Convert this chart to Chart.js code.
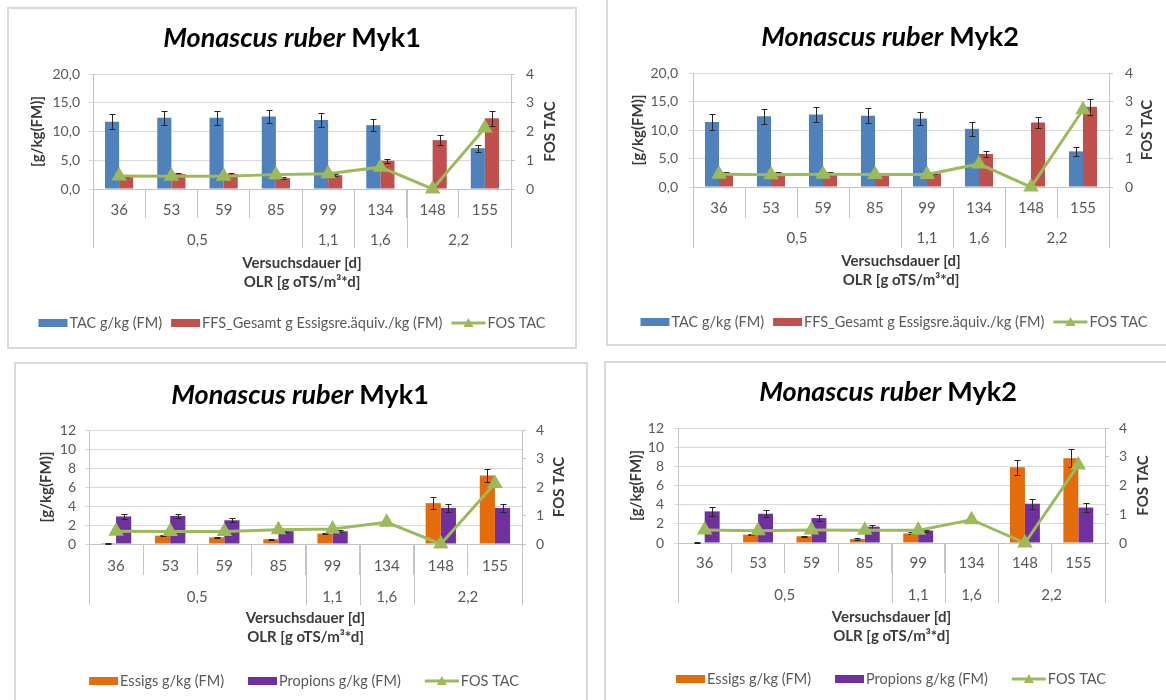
<!DOCTYPE html>
<html>
<head>
<meta charset="utf-8">
<script src="https://cdn.jsdelivr.net/npm/chart.js@4.4.1/dist/chart.umd.min.js"></script>
<style>
  body { margin: 0; background: #fff; width: 1166px; height: 700px; overflow: hidden; position: relative; }
  .panel { position: absolute; border: 2px solid #dadada; box-sizing: border-box; background: #fff; }
  canvas { position: absolute; }
</style>
</head>
<body>
<div class="panel" style="left:7px;top:7px;width:570px;height:342px"></div>
<div class="panel" style="left:606px;top:-2px;width:570px;height:348px"></div>
<div class="panel" style="left:14px;top:362px;width:574px;height:350px"></div>
<div class="panel" style="left:604px;top:361px;width:570px;height:350px"></div>
<canvas id="c1" width="568" height="340" style="left:8px;top:8px"></canvas>
<canvas id="c2" width="559" height="345" style="left:607px;top:0px"></canvas>
<canvas id="c3" width="572" height="337" style="left:15px;top:363px"></canvas>
<canvas id="c4" width="561" height="338" style="left:605px;top:362px"></canvas>
<script>
/* data */
const days = ['36', '53', '59', '85', '99', '134', '148', '155'];
const olr = ['0,5', '0,5', '0,5', '0,5', '1,1', '1,6', '2,2', '2,2'];

const tacMyk1 = [11.7, 12.4, 12.4, 12.6, 12.0, 11.1, null, 7.1];
const tacErrMyk1 = [1.3, 1.2, 1.2, 1.1, 1.2, 1.05, null, 0.6];
const ffsMyk1 = [2.3, 2.6, 2.6, 1.9, 2.4, 4.9, 8.5, 12.3];
const ffsErrMyk1 = [0.15, 0.2, 0.2, 0.15, 0.2, 0.35, 0.9, 1.3];
const fosMyk1 = [0.45, 0.44, 0.44, 0.5, 0.53, 0.76, 0, 2.12];

const tacMyk2 = [11.4, 12.4, 12.7, 12.5, 12.0, 10.2, null, 6.25];
const tacErrMyk2 = [1.4, 1.35, 1.3, 1.3, 1.1, 1.2, null, 0.75];
const ffsMyk2 = [2.4, 2.4, 2.4, 2.3, 2.4, 5.8, 11.3, 14.1];
const ffsErrMyk2 = [0.2, 0.2, 0.2, 0.2, 0.2, 0.6, 0.9, 1.4];
const fosMyk2 = [0.45, 0.43, 0.45, 0.44, 0.44, 0.81, 0, 2.71];

const essMyk1 = [0.1, 0.88, 0.7, 0.5, 1.1, null, 4.3, 7.2];
const essErrMyk1 = [0.05, 0.08, 0.08, 0.05, 0.08, null, 0.6, 0.7];
const propMyk1 = [2.9, 2.95, 2.5, 1.35, 1.35, null, 3.8, 3.8];
const propErrMyk1 = [0.25, 0.25, 0.2, 0.1, 0.1, null, 0.4, 0.45];

const essMyk2 = [0.05, 0.87, 0.7, 0.42, 1.0, null, 7.9, 8.85];
const essErrMyk2 = [0.03, 0.07, 0.07, 0.07, 0.1, null, 0.8, 0.95];
const propMyk2 = [3.3, 3.05, 2.6, 1.7, 1.3, null, 4.1, 3.7];
const propErrMyk2 = [0.5, 0.35, 0.35, 0.2, 0.1, null, 0.5, 0.5];

/* colours and fonts */
const BLUE = '#4f81bd', RED = '#c0504d', GREEN = '#9bbb59', ORANGE = '#e46c0a', PURPLE = '#7030a0';
const TICK = '#595959', GRID = '#d9d9d9', AXIS = '#c4c4c4', LABEL = '#3a3a3a';
const FONT = 'Lato';
Chart.defaults.font.family = FONT;

const fmtComma = v => v.toFixed(1).replace('.', ',');
const fmtInt = v => String(v);

/* error bars drawn right after their own bar dataset */
const errorBars = {
  id: 'errorBars',
  afterDatasetDraw(chart, args) {
    const ds = chart.data.datasets[args.index];
    if (!ds.errors) return;
    const yScale = chart.scales[ds.yAxisID];
    const ctx = chart.ctx;
    ctx.save();
    ctx.strokeStyle = '#262626';
    ctx.lineWidth = 1;
    args.meta.data.forEach(function(bar, i) {
      const v = ds.data[i], e = ds.errors[i];
      if (v == null || e == null) return;
      const top = Math.round(yScale.getPixelForValue(v + e)) + 0.5;
      const bot = Math.round(yScale.getPixelForValue(Math.max(0, v - e))) + 0.5;
      const x = Math.round(bar.x) + 0.5;
      ctx.beginPath();
      ctx.moveTo(x, top); ctx.lineTo(x, bot);
      ctx.moveTo(x - 3, top); ctx.lineTo(x + 3, top);
      ctx.moveTo(x - 3, bot); ctx.lineTo(x + 3, bot);
      ctx.stroke();
    });
    ctx.restore();
  }
};

/* title, second category row, right axis title, legend */
const panelText = {
  id: 'panelText',
  afterDraw(chart) {
    const s = chart.options.plugins.panelText;
    const ctx = chart.ctx;
    const xs = chart.scales.x;
    const area = chart.chartArea;
    ctx.save();

    // title: species name in italics
    ctx.fillStyle = '#000';
    ctx.textBaseline = 'middle';
    ctx.textAlign = 'left';
    const f1 = 'italic bold 27px ' + FONT, f2 = 'bold 27px ' + FONT;
    ctx.font = f1;
    const w1 = ctx.measureText('Monascus ruber ').width;
    ctx.font = f2;
    const w2 = ctx.measureText(s.strain).width;
    let tx = s.titleX - (w1 + w2) / 2;
    ctx.font = f1;
    ctx.fillText('Monascus ruber ', tx, s.titleY);
    ctx.font = f2;
    ctx.fillText(s.strain, tx + w1, s.titleY);

    // right axis title, reading bottom to top
    ctx.save();
    ctx.translate(s.fosX, (area.top + area.bottom) / 2);
    ctx.rotate(-Math.PI / 2);
    ctx.textAlign = 'center';
    ctx.font = 'bold 15px ' + FONT;
    ctx.fillStyle = LABEL;
    ctx.fillText('FOS TAC', 0, 0);
    ctx.restore();

    // OLR row under the day labels
    const half = xs.width / days.length / 2;
    const groups = [];
    olr.forEach(function(v, i) {
      const g = groups[groups.length - 1];
      if (g && g.label === v) g.to = i; else groups.push({label: v, from: i, to: i});
    });
    ctx.strokeStyle = AXIS;
    ctx.lineWidth = 1;
    ctx.fillStyle = TICK;
    ctx.font = '15px ' + FONT;
    ctx.textAlign = 'center';
    groups.forEach(function(g, k) {
      const x0 = xs.getPixelForValue(g.from) - half;
      const x1 = xs.getPixelForValue(g.to) + half;
      ctx.fillText(g.label, (x0 + x1) / 2, s.groupY);
      const edges = k === 0 ? [x0, x1] : [x1];
      edges.forEach(function(x) {
        const px = Math.round(x) + 0.5;
        ctx.beginPath();
        ctx.moveTo(px, area.bottom);
        ctx.lineTo(px, s.sepLong);
        ctx.stroke();
      });
    });

    // legend
    ctx.font = '14.5px ' + FONT;
    ctx.textAlign = 'left';
    const items = chart.data.datasets.slice(1).concat([chart.data.datasets[0]]);
    const widths = items.map(d => (d.type === 'line' ? 34 : 29) + 2 + ctx.measureText(d.label).width);
    const total = widths.reduce((a, b) => a + b, 0) + s.legendGap * (items.length - 1);
    let lx = s.legendX - total / 2;
    items.forEach(function(d, i) {
      const y = s.legendY;
      if (d.type === 'line') {
        ctx.strokeStyle = d.borderColor;
        ctx.lineWidth = 3;
        ctx.beginPath(); ctx.moveTo(lx, y); ctx.lineTo(lx + 34, y); ctx.stroke();
        ctx.fillStyle = d.borderColor;
        ctx.beginPath();
        ctx.moveTo(lx + 17, y - 5); ctx.lineTo(lx + 22, y + 4); ctx.lineTo(lx + 12, y + 4);
        ctx.closePath(); ctx.fill();
        ctx.fillStyle = TICK;
        ctx.fillText(d.label, lx + 36, y);
      } else {
        ctx.fillStyle = d.backgroundColor;
        ctx.fillRect(lx, y - 4, 29, 8);
        ctx.fillStyle = TICK;
        ctx.fillText(d.label, lx + 31, y);
      }
      lx += widths[i] + s.legendGap;
    });
    ctx.restore();
  }
};

function buildChart(id, s) {
  const canvas = document.getElementById(id);
  const W = canvas.width, H = canvas.height;
  const a = s.area;
  const padL = 4, padR = 4;
  const xH = s.olrY - a.b + 9.5;
  const bars = s.bars.map(function(b) {
    return {
      type: 'bar', label: b.label, data: b.data, errors: b.err, yAxisID: 'y',
      backgroundColor: b.color, borderWidth: 0, order: 1,
      categoryPercentage: s.catPct, barPercentage: 1
    };
  });
  return new Chart(canvas, {
    data: {
      labels: days,
      datasets: [{
        type: 'line', label: 'FOS TAC', data: s.fos, yAxisID: 'y1',
        borderColor: GREEN, backgroundColor: GREEN, borderWidth: 3,
        pointStyle: 'triangle', pointRadius: 6, pointHoverRadius: 6,
        pointBackgroundColor: GREEN, pointBorderColor: GREEN,
        tension: 0, clip: false, order: 0
      }].concat(bars)
    },
    options: {
      responsive: false,
      animation: false,
      devicePixelRatio: 1,
      layout: { padding: { left: padL, right: padR, top: a.t, bottom: H - a.b - xH } },
      plugins: {
        legend: { display: false },
        tooltip: { enabled: false },
        panelText: s
      },
      scales: {
        x: {
          offset: true,
          grid: { offset: true, drawOnChartArea: false, drawTicks: true, tickLength: s.sepShort, color: AXIS },
          border: { display: true, color: AXIS },
          ticks: { color: TICK, font: { size: 15 }, padding: s.catY - a.b - s.sepShort - 9, maxRotation: 0, autoSkip: false },
          title: {
            display: true, text: ['Versuchsdauer [d]', 'OLR [g oTS/m³*d]'], color: LABEL,
            font: { size: 15, weight: 'bold', lineHeight: 19 / 15 }, padding: { top: 0, bottom: 0 }
          },
          afterFit: sc => { sc.height = xH; }
        },
        y: {
          position: 'left', min: 0, max: s.yMax,
          grid: { color: GRID, drawTicks: true, tickLength: 4 },
          border: { display: true, color: AXIS },
          ticks: { stepSize: s.yStep, autoSkip: false, color: TICK, font: { size: 14 }, padding: a.l - 4 - s.yLabelR, callback: s.yFmt },
          title: {
            display: true, text: '[g/kg(FM)]', color: LABEL,
            font: { size: 15, weight: 'bold' }, padding: { top: s.yTitleX - padL - 9, bottom: 0 }
          },
          afterFit: sc => { sc.width = a.l - padL; }
        },
        y1: {
          position: 'right', min: 0, max: 4,
          grid: { drawOnChartArea: false, drawTicks: true, tickLength: 4, color: AXIS },
          border: { display: true, color: AXIS },
          ticks: { stepSize: 1, autoSkip: false, color: TICK, font: { size: 14 }, padding: s.y1LabelL - a.r - 4 },
          afterFit: sc => { sc.width = W - a.r - padR; }
        }
      }
    },
    plugins: [errorBars, panelText]
  });
}

buildChart('c1', {
  strain: 'Myk1', fos: fosMyk1, yMax: 20, yStep: 5, yFmt: fmtComma, catPct: 0.54,
  bars: [
    { label: 'TAC g/kg (FM)', data: tacMyk1, err: tacErrMyk1, color: BLUE },
    { label: 'FFS_Gesamt g Essigsre.äquiv./kg (FM)', data: ffsMyk1, err: ffsErrMyk1, color: RED }
  ],
  area: { l: 85, r: 503, t: 66, b: 181 },
  yLabelR: 72, yTitleX: 29, y1LabelL: 518, fosX: 542,
  catY: 202, sepShort: 29, groupY: 232, sepLong: 240, olrY: 274,
  legendY: 315, legendX: 284, legendGap: 9, titleX: 284, titleY: 30
});

buildChart('c2', {
  strain: 'Myk2', fos: fosMyk2, yMax: 20, yStep: 5, yFmt: fmtComma, catPct: 0.54,
  bars: [
    { label: 'TAC g/kg (FM)', data: tacMyk2, err: tacErrMyk2, color: BLUE },
    { label: 'FFS_Gesamt g Essigsre.äquiv./kg (FM)', data: ffsMyk2, err: ffsErrMyk2, color: RED }
  ],
  area: { l: 86, r: 502, t: 73, b: 187 },
  yLabelR: 71, yTitleX: 31, y1LabelL: 518, fosX: 540,
  catY: 208, sepShort: 31, groupY: 238, sepLong: 248, olrY: 280,
  legendY: 322, legendX: 287, legendGap: 9, titleX: 283, titleY: 37
});

buildChart('c3', {
  strain: 'Myk1', fos: fosMyk1, yMax: 12, yStep: 2, yFmt: fmtInt, catPct: 0.56,
  bars: [
    { label: 'Essigs g/kg (FM)', data: essMyk1, err: essErrMyk1, color: ORANGE },
    { label: 'Propions g/kg (FM)', data: propMyk1, err: propErrMyk1, color: PURPLE }
  ],
  area: { l: 74, r: 507, t: 67, b: 181 },
  yLabelR: 61, yTitleX: 31, y1LabelL: 521, fosX: 544,
  catY: 203, sepShort: 31, groupY: 234, sepLong: 242, olrY: 274,
  legendY: 318, legendX: 289, legendGap: 24, titleX: 285, titleY: 32
});

buildChart('c4', {
  strain: 'Myk2', fos: fosMyk2, yMax: 12, yStep: 2, yFmt: fmtInt, catPct: 0.56,
  bars: [
    { label: 'Essigs g/kg (FM)', data: essMyk2, err: essErrMyk2, color: ORANGE },
    { label: 'Propions g/kg (FM)', data: propMyk2, err: propErrMyk2, color: PURPLE }
  ],
  area: { l: 73, r: 500, t: 66, b: 181 },
  yLabelR: 59, yTitleX: 31, y1LabelL: 514, fosX: 538,
  catY: 201, sepShort: 30, groupY: 233, sepLong: 241, olrY: 274,
  legendY: 317, legendX: 286, legendGap: 24, titleX: 283, titleY: 30
});
</script>
</body>
</html>
